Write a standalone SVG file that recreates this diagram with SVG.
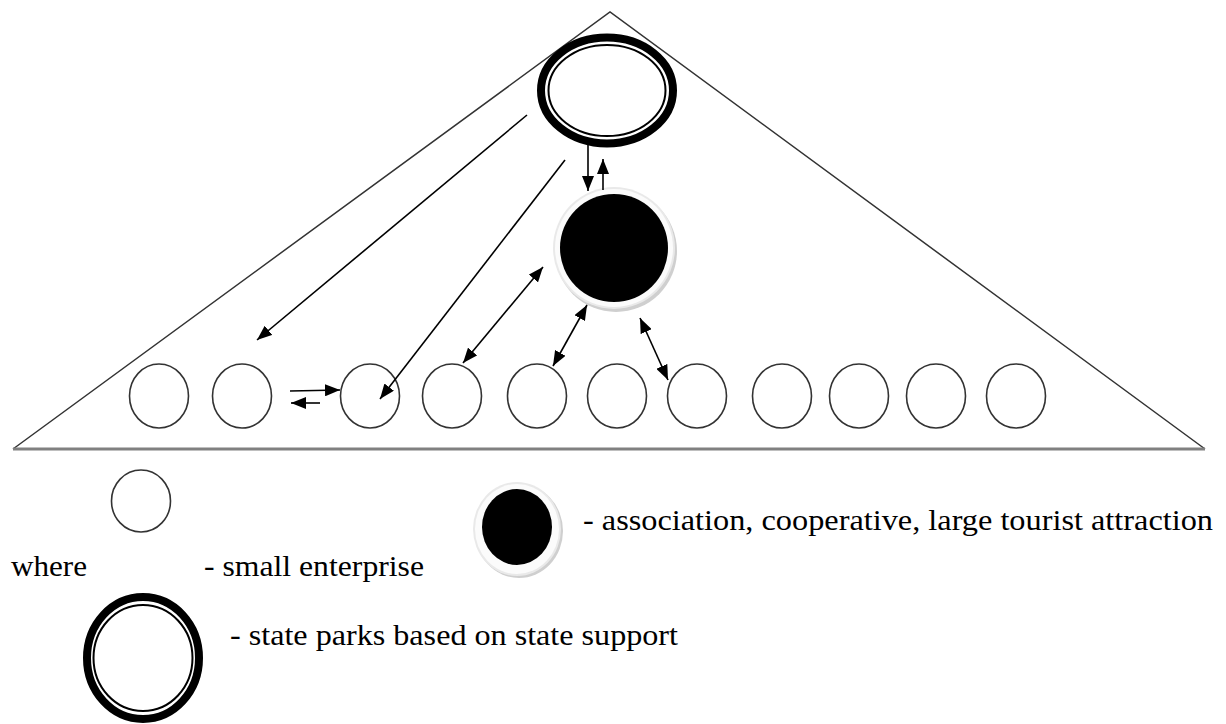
<svg xmlns="http://www.w3.org/2000/svg" width="1226" height="724" viewBox="0 0 1226 724">
  <defs>
    <marker id="head" viewBox="0 0 15 12" refX="15" refY="6" markerWidth="15" markerHeight="12" markerUnits="userSpaceOnUse" orient="auto-start-reverse">
      <path d="M0,0 L15,6 L0,12 Z" fill="#000"/>
    </marker>
    <style>
      .tri { fill: none; stroke: #333; stroke-width: 1.5; }
      .base { stroke: #808080; stroke-width: 3; }
      .small { fill: #fff; stroke: #333; stroke-width: 1.6; }
      .thick { fill: #fff; stroke: #000; stroke-width: 8; }
      .thin { fill: none; stroke: #000; stroke-width: 2; }
      .conn line { stroke: #000; stroke-width: 1.6; }
      .lbl { font-size: 29px; fill: #000; }
    </style>
  </defs>

  <rect width="1226" height="724" fill="#fff"/>

  <!-- pyramid outline -->
  <g id="pyramid">
    <path class="tri" d="M13,449 L610,12 L1205,449"/>
    <line class="base" x1="13" y1="449" x2="1205" y2="449"/>
  </g>

  <!-- state park at the apex -->
  <g id="state-park">
    <ellipse class="thick" cx="607" cy="90.5" rx="66" ry="53"/>
    <ellipse class="thin" cx="607" cy="90.5" rx="58.5" ry="45.5"/>
  </g>

  <!-- association / cooperative -->
  <g id="association">
    <circle cx="616" cy="251" r="61" fill="#cfcfcf"/>
    <circle cx="614" cy="248" r="61" fill="#e9e9e9"/>
    <circle cx="614" cy="248" r="59" fill="#fbfbfb"/>
    <circle cx="614" cy="248" r="54" fill="#000"/>
  </g>

  <!-- small enterprises -->
  <g id="enterprise-1"><ellipse class="small" cx="159" cy="396" rx="29.5" ry="32"/></g>
  <g id="enterprise-2"><ellipse class="small" cx="242" cy="396" rx="29.5" ry="32"/></g>
  <g id="enterprise-3"><ellipse class="small" cx="370" cy="396" rx="29.5" ry="32"/></g>
  <g id="enterprise-4"><ellipse class="small" cx="452" cy="396" rx="29.5" ry="32"/></g>
  <g id="enterprise-5"><ellipse class="small" cx="537" cy="396" rx="29.5" ry="32"/></g>
  <g id="enterprise-6"><ellipse class="small" cx="617" cy="396" rx="29.5" ry="32"/></g>
  <g id="enterprise-7"><ellipse class="small" cx="697" cy="396" rx="29.5" ry="32"/></g>
  <g id="enterprise-8"><ellipse class="small" cx="782" cy="396" rx="29.5" ry="32"/></g>
  <g id="enterprise-9"><ellipse class="small" cx="859" cy="396" rx="29.5" ry="32"/></g>
  <g id="enterprise-10"><ellipse class="small" cx="936" cy="396" rx="29.5" ry="32"/></g>
  <g id="enterprise-11"><ellipse class="small" cx="1016" cy="396" rx="29.5" ry="32"/></g>

  <!-- connectors -->
  <g id="connectors" class="conn">
    <line x1="527" y1="115" x2="257" y2="340" marker-end="url(#head)"/>
    <line x1="565" y1="160" x2="380" y2="399" marker-end="url(#head)"/>
    <line x1="588" y1="145" x2="588" y2="191" marker-end="url(#head)"/>
    <line x1="603" y1="190" x2="603" y2="159" marker-end="url(#head)"/>
    <line x1="463" y1="363" x2="543" y2="267" marker-start="url(#head)" marker-end="url(#head)"/>
    <line x1="553" y1="366" x2="587" y2="305" marker-start="url(#head)" marker-end="url(#head)"/>
    <line x1="640" y1="318" x2="668" y2="380" marker-start="url(#head)" marker-end="url(#head)"/>
    <line x1="290" y1="391" x2="340" y2="390" marker-end="url(#head)"/>
    <line x1="320" y1="403" x2="291" y2="403" marker-end="url(#head)"/>
  </g>

  <!-- legend -->
  <g id="legend-small" font-family="'Liberation Serif', 'DejaVu Serif', 'Times New Roman', serif">
    <ellipse class="small" cx="141" cy="501" rx="29.5" ry="31"/>
    <text class="lbl" x="11" y="576" textLength="76" lengthAdjust="spacingAndGlyphs">where</text>
    <text class="lbl" x="204" y="576" textLength="220" lengthAdjust="spacingAndGlyphs">- small enterprise</text>
  </g>
  <g id="legend-association" font-family="'Liberation Serif', 'DejaVu Serif', 'Times New Roman', serif">
    <ellipse cx="519" cy="531" rx="44" ry="47" fill="#cfcfcf"/>
    <ellipse cx="517" cy="529" rx="44" ry="47" fill="#e9e9e9"/>
    <ellipse cx="517" cy="529" rx="42" ry="45" fill="#fbfbfb"/>
    <ellipse cx="517" cy="527" rx="35" ry="38" fill="#000"/>
    <text class="lbl" x="583" y="530" textLength="630" lengthAdjust="spacingAndGlyphs">- association, cooperative, large tourist attraction</text>
  </g>
  <g id="legend-state-park" font-family="'Liberation Serif', 'DejaVu Serif', 'Times New Roman', serif">
    <ellipse class="thick" cx="143" cy="658" rx="56" ry="61"/>
    <ellipse class="thin" cx="143" cy="658" rx="49.5" ry="53"/>
    <text class="lbl" x="230" y="645" textLength="448" lengthAdjust="spacingAndGlyphs">- state parks based on state support</text>
  </g>
</svg>
